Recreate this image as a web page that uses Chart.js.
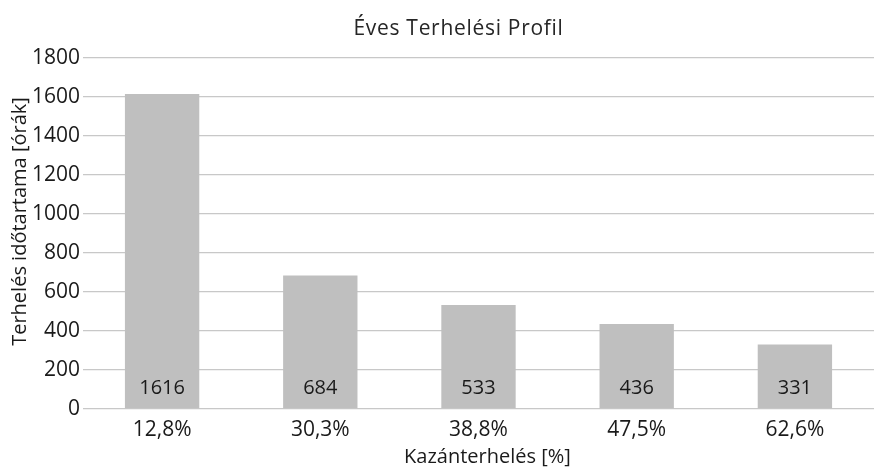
<!DOCTYPE html>
<html>
<head>
<meta charset="utf-8">
<script src="https://cdn.jsdelivr.net/npm/chart.js@4.4.1/dist/chart.umd.min.js"></script>
<style>
  html, body { margin: 0; padding: 0; background: #fff; }
  #doboz { width: 875px; height: 468px; }
</style>
</head>
<body>
<div id="doboz"><canvas id="profil"></canvas></div>
<script>
// Kazánterhelési kategóriák és az éves üzemórák
const kategoriak = ['12,8%', '30,3%', '38,8%', '47,5%', '62,6%'];
const orak = [1616, 684, 533, 436, 331];
const yMax = 1800;
const yLepes = 200;

const cim = 'Éves Terhelési Profil';
const yCim = 'Terhelés időtartama [órák]';
const xCim = 'Kazánterhelés [%]';

const betu = '"Open Sans", "Noto Sans", sans-serif';
const szoveg = '#1a1a1a';

// Cím és tengelycímek kirajzolása
const cimRajzolo = {
  id: 'cimRajzolo',
  afterDraw(chart) {
    const ctx = chart.ctx;
    const ca = chart.chartArea;
    ctx.save();
    ctx.textAlign = 'center';
    ctx.textBaseline = 'middle';

    ctx.font = '21px ' + betu;
    ctx.fillStyle = '#262626';
    ctx.letterSpacing = '0.7px';
    ctx.fillText(cim, chart.width / 2 + 21, 29);
    ctx.letterSpacing = '0px';

    ctx.fillStyle = szoveg;
    ctx.font = '20px ' + betu;
    ctx.fillText(xCim, (ca.left + ca.right) / 2 + 9, 457);

    ctx.translate(20, (ca.top + ca.bottom) / 2 - 12);
    ctx.rotate(-Math.PI / 2);
    ctx.fillText(yCim, 0, 0);
    ctx.restore();
  }
};

// Értékek az oszlopok alján
const ertekCimkek = {
  id: 'ertekCimkek',
  afterDatasetsDraw(chart) {
    const ctx = chart.ctx;
    const meta = chart.getDatasetMeta(0);
    const alap = chart.scales.y.getPixelForValue(0);
    ctx.save();
    ctx.font = '20px ' + betu;
    ctx.fillStyle = szoveg;
    ctx.textAlign = 'center';
    ctx.textBaseline = 'middle';
    meta.data.forEach((bar, i) => {
      ctx.fillText(String(orak[i]), bar.x, alap - 21);
    });
    ctx.restore();
  }
};

new Chart(document.getElementById('profil'), {
  type: 'bar',
  data: {
    labels: kategoriak,
    datasets: [{
      data: orak,
      backgroundColor: '#bfbfbf',
      borderWidth: 0,
      categoryPercentage: 1,
      barPercentage: 0.47
    }]
  },
  options: {
    responsive: true,
    maintainAspectRatio: false,
    animation: false,
    layout: { padding: { top: 58, right: 1, left: 0, bottom: 0 } },
    plugins: {
      legend: { display: false },
      title: { display: false },
      tooltip: { enabled: false }
    },
    scales: {
      x: {
        grid: { display: false, drawTicks: false },
        border: { display: false },
        ticks: { color: szoveg, font: { family: betu, size: 21 }, padding: 8 },
        afterFit(s) { s.height = 59; }
      },
      y: {
        min: 0,
        max: yMax,
        grid: { color: '#c8c8c8', lineWidth: 1.3, drawTicks: false },
        border: { display: false },
        ticks: {
          stepSize: yLepes,
          color: szoveg,
          font: { family: betu, size: 21 },
          padding: 3,
          callback: (v) => String(v)
        },
        afterFit(s) { s.width = 83; }
      }
    }
  },
  plugins: [cimRajzolo, ertekCimkek]
});
</script>
</body>
</html>
